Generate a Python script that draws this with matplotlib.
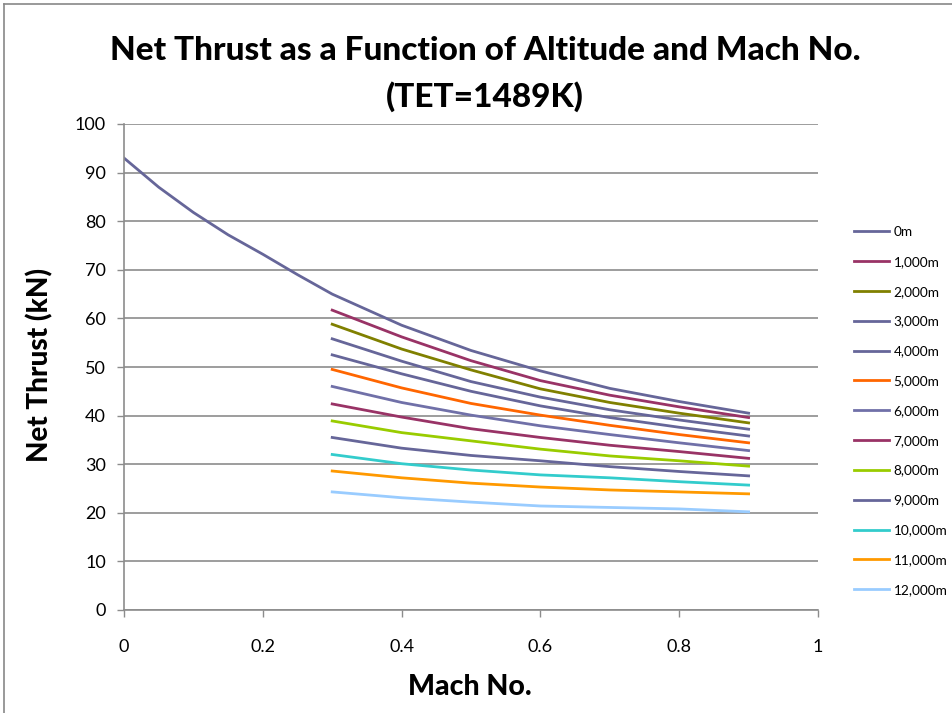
import matplotlib
matplotlib.use('Agg')
import matplotlib.pyplot as plt
from matplotlib.lines import Line2D

plt.rcParams['font.family'] = ['Lato', 'DejaVu Sans']

# Mach numbers
mach_sl = [0, 0.05, 0.1, 0.15, 0.2, 0.25, 0.3, 0.4, 0.5, 0.6, 0.7, 0.8, 0.9]
mach = [0.3, 0.4, 0.5, 0.6, 0.7, 0.8, 0.9]

# net thrust (kN) by altitude
thrust_0 = [93.0, 87.0, 81.8, 77.2, 73.2, 69.0, 65.0, 58.6, 53.4, 49.2, 45.6, 42.9, 40.5]
thrust_1000 = [61.7, 56.2, 51.3, 47.2, 44.2, 41.8, 39.6]
thrust_2000 = [58.8, 53.7, 49.4, 45.5, 42.7, 40.5, 38.5]
thrust_3000 = [55.8, 51.2, 47.0, 43.8, 41.2, 39.1, 37.2]
thrust_4000 = [52.5, 48.6, 45.0, 42.0, 39.6, 37.6, 35.8]
thrust_5000 = [49.5, 45.7, 42.5, 40.1, 38.0, 36.1, 34.4]
thrust_6000 = [46.0, 42.7, 40.1, 37.9, 36.1, 34.4, 32.8]
thrust_7000 = [42.4, 39.7, 37.3, 35.5, 33.9, 32.6, 31.2]
thrust_8000 = [38.9, 36.5, 34.8, 33.1, 31.7, 30.7, 29.6]
thrust_9000 = [35.5, 33.3, 31.8, 30.7, 29.5, 28.5, 27.6]
thrust_10000 = [32.0, 30.1, 28.8, 27.8, 27.2, 26.4, 25.7]
thrust_11000 = [28.6, 27.2, 26.1, 25.3, 24.7, 24.3, 23.9]
thrust_12000 = [24.3, 23.1, 22.2, 21.4, 21.1, 20.8, 20.2]

labels = ['0m', '1,000m', '2,000m', '3,000m', '4,000m', '5,000m', '6,000m',
          '7,000m', '8,000m', '9,000m', '10,000m', '11,000m', '12,000m']
colors = ['#666699', '#993366', '#808000', '#666699', '#666699', '#FF6600', '#7070A8',
          '#993366', '#99CC00', '#666699', '#33CCCC', '#FF9900', '#99CCFF']

series = [thrust_1000, thrust_2000, thrust_3000, thrust_4000, thrust_5000, thrust_6000,
          thrust_7000, thrust_8000, thrust_9000, thrust_10000, thrust_11000, thrust_12000]

fig = plt.figure(figsize=(9.53, 7.13), dpi=100)
ax = fig.add_axes([124/953, 1-610/713, (818-124)/953, (610-124)/713])

ax.plot(mach_sl, thrust_0, color=colors[0], lw=2.0, label=labels[0])
for s, c, l in zip(series, colors[1:], labels[1:]):
    ax.plot(mach, s, color=c, lw=2.0, label=l)

ax.set_xlim(0, 1)
ax.set_ylim(0, 100)
ax.set_xticks([0, 0.2, 0.4, 0.6, 0.8, 1])
ax.set_xticklabels(['0', '0.2', '0.4', '0.6', '0.8', '1'])
ax.set_yticks(range(0, 101, 10))

grid_c = '#8c8c8c'
ax.yaxis.grid(True, color=grid_c, lw=1.2)
ax.set_axisbelow(True)
for side in ['top', 'right']:
    ax.spines[side].set_visible(False)
for side in ['left', 'bottom']:
    ax.spines[side].set_color(grid_c)
    ax.spines[side].set_linewidth(1.2)
ax.tick_params(axis='both', direction='out', length=5, color=grid_c, width=1.0, labelsize=13)
ax.tick_params(axis='x', pad=16)
ax.tick_params(axis='y', pad=8)

fig.text(485/953, 1-50/713, 'Net Thrust as a Function of Altitude and Mach No.',
         ha='center', va='center', fontsize=24, fontweight='black')
fig.text(485/953, 1-97/713, '(TET=1489K)', ha='center', va='center', fontsize=24, fontweight='black')
fig.text(40/953, 1-365/713, 'Net Thrust (kN)', rotation=90, ha='center', va='center',
         fontsize=20, fontweight='black')
fig.text(470/953, 1-687/713, 'Mach No.', ha='center', va='center', fontsize=20.5, fontweight='black')

fig.legend(loc='upper left', bbox_to_anchor=(854/953, 1-226/713), frameon=False,
           fontsize=9.8, handlelength=2.6, handletextpad=0.3, labelspacing=1.31,
           borderpad=0, borderaxespad=0)

# chart area border
fig.add_artist(Line2D([4/953, 4/953], [0, 1-4/713], color='#888888', lw=1.2))
fig.add_artist(Line2D([4/953, 1], [1-4/713, 1-4/713], color='#888888', lw=1.2))

fig.savefig('out.png', dpi=100)
